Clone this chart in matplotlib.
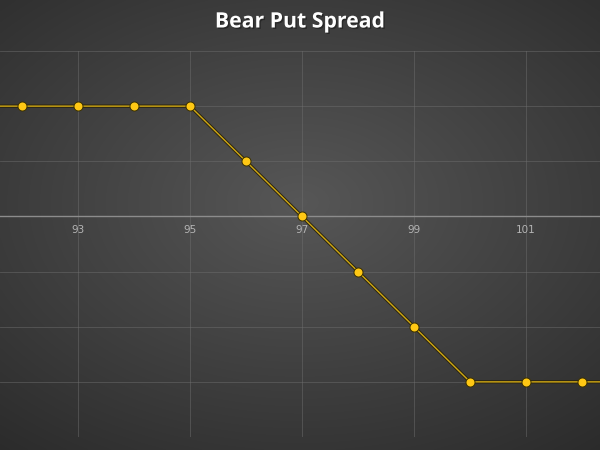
import numpy as np
import matplotlib
matplotlib.use("Agg")
import matplotlib.pyplot as plt
import matplotlib.patheffects as pe

# underlying price at expiry and the spread payoff
prices = [91, 92, 93, 94, 95, 96, 97, 98, 99, 100, 101, 102, 103]
payoff = [2, 2, 2, 2, 2, 1, 0, -1, -2, -3, -3, -3, -3]
tick_values = [93, 95, 97, 99, 101]
title = "Bear Put Spread"

fig = plt.figure(figsize=(6, 4.5), dpi=100)

# radial gray background over the whole figure
bg = fig.add_axes([0, 0, 1, 1], zorder=0)
yy, xx = np.mgrid[-1:1:300j, -1:1:400j]
r = np.sqrt((xx * 0.85) ** 2 + ((yy + 0.1) * 0.95) ** 2)
shade = 0.34 - 0.17 * np.clip(r, 0, 1.35) / 1.35
bg.imshow(np.dstack([shade] * 3), aspect="auto", extent=[0, 1, 0, 1],
          interpolation="bicubic")
bg.axis("off")

ax = fig.add_axes([0, 1 - 437 / 450, 1, (437 - 51) / 450], zorder=1)
ax.patch.set_alpha(0)
ax.set_xlim(92 - 22 / 56, 92 + 578 / 56)
ax.set_ylim(-4, 3)

ax.set_xticks(tick_values)
ax.set_yticks(range(-4, 4))
ax.grid(True, color="#707070", linewidth=0.6, alpha=0.55)
ax.spines["bottom"].set_position(("data", 0))
ax.tick_params(axis="x", length=0, colors="#b4b4b4", labelsize=7.5, pad=6)
ax.tick_params(axis="y", length=0, labelleft=False)
for s in ax.spines.values():
    s.set_visible(False)
ax.axhline(0, color="#8c8c8c", linewidth=1.0, zorder=2)

shadow = [pe.Stroke(linewidth=2.4, foreground="#2a2410"), pe.Normal()]
ax.plot(prices, payoff, color="#cfa814", linewidth=1.0, zorder=3,
        path_effects=shadow)
ax.plot(prices, payoff, linestyle="none", marker="o", markersize=6.5,
        markerfacecolor="#ffc814", markeredgecolor="#3a3000",
        markeredgewidth=0.7, zorder=4)

fig.text(0.5, 1 - 22 / 450, title, ha="center", va="center", color="white",
         fontsize=15.3, fontweight="bold", family="Open Sans",
         path_effects=[pe.withSimplePatchShadow(offset=(1, -1),
                                                shadow_rgbFace="#1a1a1a",
                                                alpha=0.6)])

fig.savefig("out.png", dpi=100)
